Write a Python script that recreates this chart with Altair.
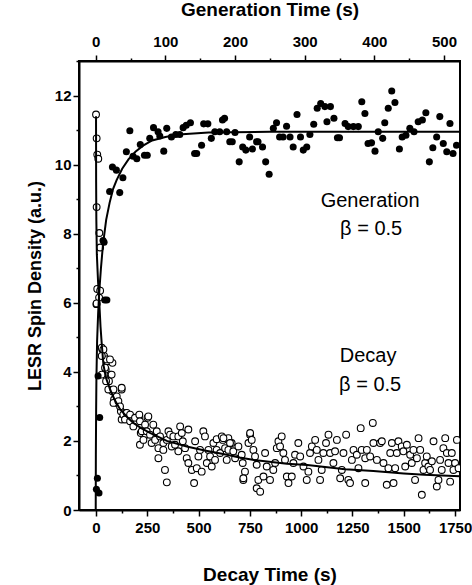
import altair as alt
import pandas as pd

# Generation (filled circles), time on top axis (s), spin density (a.u.)
gen_points = [
    (1, 0.6), (4.7, 0.49), (2.4, 0.92), (5.7, 2.68), (3.4, 3.88), (13, 6.08), (16, 6.08),
    (10.5, 7.8), (12, 7.75),
    (20, 9.22), (34.5, 9.19), (24, 9.93), (29.7, 9.84), (39, 9.62), (44, 10.37), (49, 10.98),
    (53.6, 10.24), (59, 10.17), (64, 10.58), (70, 10.27), (74, 10.27), (77.6, 10.76), (83, 11.07),
    (89.5, 10.95), (92, 10.83), (97.7, 10.39), (102, 11.05), (108.7, 10.8), (115, 10.87),
    (120.7, 10.87), (125.5, 11.07), (130, 11.14), (136, 11.21), (142, 10.32), (145, 10.32),
    (152, 10.56), (155, 11.18), (161, 11.18), (166, 10.76), (171, 10.95), (178, 10.95),
    (182, 11.29), (185, 11.34), (188, 10.95), (192.5, 10.66), (196, 10.66), (200, 10.93),
    (206, 10.08), (211, 10.51), (215.5, 10.42), (221, 10.8), (225, 10.45), (231, 10.66),
    (233, 10.66), (239.5, 10.51), (244, 10.08), (249, 9.72), (255, 11.05), (259.6, 11.21),
    (264, 10.8), (269, 10.8), (274, 11.11), (279, 10.8), (283.5, 10.51), (289, 11.45),
    (294, 10.8), (298, 10.42), (303, 10.51), (307.5, 10.87), (313, 11.17), (318, 11.63),
    (323, 11.77), (329, 11.68), (337, 11.68), (332, 11.24), (342, 11.34), (347, 10.78),
    (350, 10.78), (358, 11.19), (362.5, 11.1), (370, 11.1), (377, 11.1), (382, 11.82),
    (386.5, 11.48), (391, 10.61), (396, 10.63), (401, 10.39), (405.6, 10.95), (412, 10.76),
    (415, 11.21), (420, 11.63), (425, 12.13), (429.6, 11.8), (436, 10.45), (440, 10.8),
    (445.4, 10.85), (451, 11.05), (457, 10.95), (463, 11.24), (469, 11.29), (474, 11.5),
    (479, 10.08), (484, 10.49), (489.5, 10.8), (494, 11.39), (499, 10.61), (504, 10.37),
    (508.6, 11.19), (513, 10.32), (518, 10.56),
]

# Decay (open circles), time on bottom axis (s)
decay_points = [
    (0, 11.45), (3, 10.76), (6, 10.29), (11, 10.17), (3, 8.77), (16, 8.02), (20, 7.6),
    (6, 6.4), (2, 5.96), (15, 6.15), (3, 5.98), (20, 6.35),
    (31, 4.65), (39, 4.46), (55, 4.31), (80, 4.26), (47, 4.07), (71, 3.92), (63, 3.73),
    (80, 3.44), (125, 3.49), (88, 3.2), (104, 3.1), (121, 2.86), (145, 2.81), (125, 2.62),
    (161, 2.62), (210, 2.73), (218, 2.23), (251, 2.67), (243, 2.18),
    (28, 4.7), (36, 4.65), (52, 4.36), (68, 4.36), (28, 4.46), (44, 4.12), (28, 3.92),
    (49, 3.73), (76, 3.92), (60, 3.49), (85, 3.49), (101, 3.29), (125, 3.54), (85, 3.1),
    (109, 3.15), (117, 3.0), (133, 2.76), (150, 2.81), (141, 2.62), (166, 2.76), (166, 2.57),
    (190, 2.67), (211, 2.76), (182, 2.42), (214, 2.57), (239, 2.47), (255, 2.71), (223, 2.28),
    (247, 2.28), (214, 1.89), (231, 2.03), (263, 2.18), (279, 2.47), (296, 2.28), (271, 1.94),
    (288, 2.03), (304, 1.79), (312, 2.13), (328, 1.94), (345, 2.03), (304, 1.5), (328, 1.74),
    (353, 2.28), (361, 2.18), (377, 2.13), (336, 1.16), (345, 0.8), (369, 1.84), (385, 1.89),
    (401, 2.13), (410, 2.42), (418, 2.23), (423, 1.99), (401, 1.7), (434, 1.79), (450, 2.33),
    (442, 1.5), (450, 1.36), (467, 1.16), (478, 0.78), (483, 1.99), (491, 1.21), (499, 1.55),
    (507, 1.74), (523, 2.28), (531, 2.13), (515, 1.11), (540, 1.36), (548, 1.74), (556, 1.55),
    (572, 1.94), (564, 1.26), (580, 1.45), (588, 1.74), (605, 1.65), (588, 2.05), (618, 2.03),
    (629, 1.79), (645, 2.08), (645, 1.74), (661, 1.94), (669, 1.7), (678, 1.5), (694, 1.84),
    (710, 1.6), (715, 1.36), (718, 0.87), (726, 1.11), (743, 1.94), (751, 2.18), (759, 2.03),
    (767, 1.74), (775, 1.55), (783, 1.31), (791, 0.87), (613, 2.13), (621, 2.08), (653, 1.94),
    (637, 1.45), (718, 0.92), (751, 2.23), (783, 0.63), (800, 0.53), (816, 0.97), (832, 1.26),
    (824, 1.65), (848, 0.87), (864, 1.16), (873, 1.36), (881, 1.79), (889, 1.99), (897, 1.84),
    (905, 2.13), (913, 1.65), (921, 1.45), (930, 0.97), (938, 0.78), (954, 0.97), (962, 1.36),
    (970, 1.6), (986, 1.94), (995, 1.55), (1011, 1.26), (1027, 0.87), (1035, 1.11),
    (1043, 1.65), (1052, 1.84), (1068, 2.03), (1076, 1.74), (1084, 1.45), (1092, 0.87),
    (1100, 1.16), (1108, 1.65), (1121, 1.94), (1133, 2.18), (1141, 1.65), (1157, 1.36),
    (1165, 1.7), (1174, 2.03), (1190, 0.92), (1198, 1.16), (1206, 1.65), (1219, 2.18),
    (1230, 0.87), (1238, 0.78), (1247, 1.45), (1255, 1.74), (1271, 1.6), (1279, 1.21),
    (1290, 2.37), (1295, 1.74), (1312, 1.5), (1312, 0.78), (1320, 1.74), (1336, 1.55),
    (1349, 2.52), (1352, 1.94), (1369, 1.45), (1385, 1.94), (1393, 1.99), (1401, 1.36),
    (1417, 0.73), (1425, 1.21), (1434, 1.65), (1442, 1.94), (1450, 0.78), (1458, 1.21),
    (1466, 1.65), (1474, 1.99), (1490, 1.84), (1498, 1.7), (1507, 1.26), (1515, 1.89),
    (1531, 1.6), (1539, 1.36), (1547, 1.74), (1555, 0.87), (1564, 1.5), (1572, 2.08),
    (1580, 1.74), (1588, 0.44), (1596, 1.16), (1604, 1.36), (1612, 1.55), (1620, 1.26),
    (1628, 1.16), (1637, 1.41), (1645, 1.99), (1661, 0.68), (1669, 0.87), (1677, 1.45),
    (1685, 1.16), (1693, 1.79), (1702, 2.08), (1710, 1.65), (1718, 1.36), (1726, 0.82),
    (1734, 1.65), (1742, 1.16), (1750, 1.36), (1759, 2.03), (1767, 1.21),
]

# Fitted curves
gen_fit = [
    (0, 0), (0.2, 1.6), (0.6, 2.9), (1, 3.8), (2, 4.9), (3.5, 5.7), (5, 6.3), (7.5, 7.0),
    (10.5, 7.7), (15, 8.4), (20, 8.9), (25, 9.3), (30, 9.55), (38, 9.88), (47, 10.15),
    (57, 10.37), (68, 10.55), (81, 10.7), (100, 10.8), (119, 10.87), (162, 10.93),
    (250, 10.95), (523, 10.95),
]
decay_fit = [
    (0, 11.4), (0.5, 9.5), (1.5, 8.4), (4, 7.4), (10, 6.6), (16, 6.0), (22, 5.3), (28, 4.8),
    (36, 4.2), (50, 3.8), (68, 3.5), (90, 3.2), (117, 2.92), (150, 2.7), (182, 2.52),
    (220, 2.37), (263, 2.23), (345, 2.0), (442, 1.84), (530, 1.72), (620, 1.62), (700, 1.52),
    (770, 1.45), (930, 1.34), (1030, 1.3), (1214, 1.18), (1352, 1.13), (1500, 1.06),
    (1600, 1.02), (1774, 0.98),
]

labels = [
    (1336, 8.95, "Generation"), (1341, 8.14, "β = 0.5"),
    (1326, 4.45, "Decay"), (1336, 3.63, "β = 0.5"),
]

FONT = "Liberation Sans"

gen_df = pd.DataFrame(gen_points, columns=["t", "y"])
dec_df = pd.DataFrame(decay_points, columns=["t", "y"])
gfit_df = pd.DataFrame(gen_fit, columns=["t", "y"])
dfit_df = pd.DataFrame(decay_fit, columns=["t", "y"])
lab_df = pd.DataFrame(labels, columns=["t", "y", "label"])

y_enc = alt.Y(
    "y:Q",
    scale=alt.Scale(domain=[0, 13], nice=False, zero=False),
    axis=alt.Axis(
        values=list(range(0, 14)),
        labelExpr="datum.value % 2 === 0 ? datum.label : ''",
        tickSize={"condition": {"test": "datum.value % 2 === 0", "value": 6}, "value": 3},
        title="LESR Spin Density (a.u.)",
        titleFontSize=18,
        titlePadding=10,
        labelPadding=2,
    ),
)

bot_axis = alt.Axis(
    orient="bottom",
    values=list(range(0, 1751, 125)),
    labelExpr="datum.value % 250 === 0 ? datum.label : ''",
    tickSize={"condition": {"test": "datum.value % 250 === 0", "value": 6}, "value": 3},
    format="d",
    title="Decay Time (s)",
    titleFontSize=19,
    titlePadding=30,
    labelPadding=4,
)
top_axis = alt.Axis(
    orient="top",
    values=list(range(0, 501, 50)),
    labelExpr="datum.value % 100 === 0 ? datum.label : ''",
    tickSize={"condition": {"test": "datum.value % 100 === 0", "value": 6}, "value": 3},
    format="d",
    title="Generation Time (s)",
    titleFontSize=19,
    titlePadding=15,
    labelPadding=6,
)

xd = alt.X("t:Q", scale=alt.Scale(domain=[-83, 1774], nice=False, zero=False), axis=bot_axis)
xg = alt.X("t:Q", scale=alt.Scale(domain=[-24, 523], nice=False, zero=False), axis=top_axis)

dec_pts = alt.Chart(dec_df).mark_point(
    shape="circle", filled=False, fill="white", fillOpacity=1, stroke="black",
    strokeWidth=1.1, size=46, opacity=1, clip=True
).encode(x=xd, y=y_enc)
dec_line = alt.Chart(dfit_df).mark_line(color="black", strokeWidth=2, clip=True).encode(
    x=xd, y=y_enc, order="t:Q")
texts = alt.Chart(lab_df).mark_text(
    font=FONT, fontSize=20, color="black", align="center", baseline="middle"
).encode(x=xd, y=y_enc, text="label:N")

gen_pts = alt.Chart(gen_df).mark_circle(color="black", size=50, opacity=1, clip=True).encode(
    x=xg, y=y_enc)
gen_line = alt.Chart(gfit_df).mark_line(color="black", strokeWidth=2, clip=True).encode(
    x=xg, y=y_enc, order="t:Q")

decay_group = alt.layer(dec_pts, dec_line, texts)
gen_group = alt.layer(gen_pts, gen_line)

chart = alt.layer(decay_group, gen_group).resolve_scale(x="independent").properties(
    width=381, height=449,
    padding={"left": 79, "top": 61, "right": 12, "bottom": 75},
    autosize=alt.AutoSizeParams(type="none"),
    background="white",
).configure_axis(
    grid=False,
    domainColor="black", domainWidth=2,
    tickColor="black", tickWidth=1.5,
    labelFont=FONT, labelFontSize=15, labelFontWeight="bold", labelColor="black",
    titleFont=FONT, titleFontWeight="bold", titleColor="black",
).configure_view(stroke="black", strokeWidth=2)

chart.save("out.html", embed_options={"renderer": "svg", "actions": False})
